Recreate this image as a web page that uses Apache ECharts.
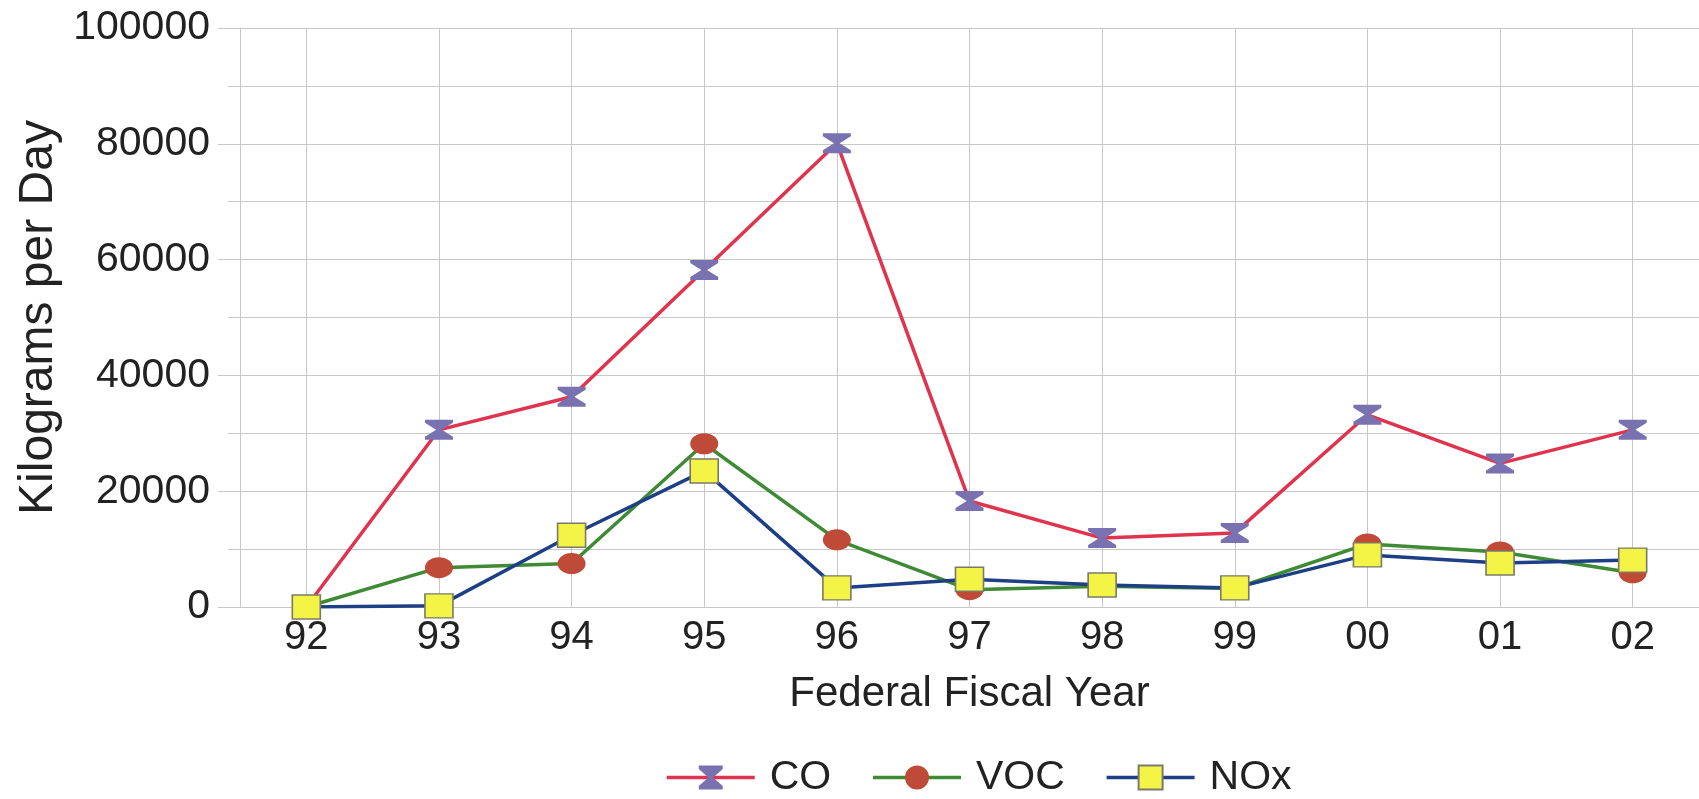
<!DOCTYPE html>
<html>
<head>
<meta charset="utf-8">
<script src="https://cdn.jsdelivr.net/npm/echarts@6/dist/echarts.min.js"></script>
<style>
html,body{margin:0;padding:0;background:#fff;}
#chart{width:1699px;height:799px;}
</style>
</head>
<body>
<div id="chart"></div>
<script>
const categories = ['92','93','94','95','96','97','98','99','00','01','02'];
const coValues  = [0, 30600, 36300, 58200, 80100, 18300, 11900, 12800, 33200, 24800, 30600];
const vocValues = [0, 6800, 7500, 28200, 11600, 3000, 3600, 3200, 10900, 9500, 5900];
const noxValues = [0, 200, 12400, 23500, 3300, 4800, 3800, 3300, 9000, 7600, 8100];
const seriesNames = ['CO', 'VOC', 'NOx'];

const FONT = 'Liberation Sans, Arial, sans-serif';
const hourglass = 'path://M0,0L10,0L10,1.5L6,5L10,8.5L10,10L0,10L0,8.5L4,5L0,1.5Z';

const chart = echarts.init(document.getElementById('chart'), null, {renderer: 'canvas'});
chart.setOption({
  backgroundColor: '#ffffff',
  animation: false,
  grid: {left: 240, right: 0, top: 28, bottom: 192, containLabel: false},
  legend: {
    data: seriesNames,
    left: 660,
    top: 752,
    itemWidth: 88,
    itemHeight: 30,
    itemGap: 40,
    lineStyle: {width: 3.5},
    textStyle: {fontFamily: FONT, fontSize: 41, color: '#222', padding: [0, 0, 0, 10]}
  },
  xAxis: {
    type: 'category',
    data: categories,
    boundaryGap: true,
    name: 'Federal Fiscal Year',
    nameLocation: 'middle',
    nameGap: 66,
    nameTextStyle: {fontFamily: FONT, fontSize: 42, color: '#222'},
    axisLine: {show: false},
    axisTick: {show: false},
    axisLabel: {fontFamily: FONT, fontSize: 40, color: '#222', margin: 11},
    splitLine: {show: true, alignWithLabel: true, lineStyle: {color: '#c8c8c8', width: 1}}
  },
  yAxis: {
    type: 'value',
    min: 0,
    max: 100000,
    interval: 20000,
    name: 'Kilograms per Day',
    nameLocation: 'middle',
    nameRotate: 90,
    nameGap: 174,
    nameTextStyle: {fontFamily: FONT, fontSize: 48, color: '#222'},
    axisLine: {show: true, lineStyle: {color: '#c8c8c8', width: 1}},
    axisTick: {show: true, length: 22, lineStyle: {color: '#c8c8c8'}},
    minorTick: {show: true, splitNumber: 2, length: 12, lineStyle: {color: '#c8c8c8'}},
    axisLabel: {fontFamily: FONT, fontSize: 41, color: '#222', margin: 30,
      formatter: function (v) { return String(v); }},
    splitLine: {show: true, lineStyle: {color: '#c8c8c8', width: 1}},
    minorSplitLine: {show: true, lineStyle: {color: '#c8c8c8', width: 1}}
  },
  series: [
    {
      name: seriesNames[0],
      type: 'line',
      data: coValues,
      symbol: hourglass,
      symbolSize: [28, 20],
      lineStyle: {color: '#e0344e', width: 3.5},
      itemStyle: {color: '#7a72b0'},
      z: 3
    },
    {
      name: seriesNames[1],
      type: 'line',
      data: vocValues,
      symbol: 'circle',
      symbolSize: [28, 21],
      lineStyle: {color: '#3f8b35', width: 3.5},
      itemStyle: {color: '#bf4a38'},
      z: 2
    },
    {
      name: seriesNames[2],
      type: 'line',
      data: noxValues,
      symbol: 'rect',
      symbolSize: [28, 24],
      lineStyle: {color: '#1d3f86', width: 3.5},
      itemStyle: {color: '#f4f447', borderColor: '#7a7a6a', borderWidth: 1.5},
      z: 4
    }
  ]
});
</script>
</body>
</html>
